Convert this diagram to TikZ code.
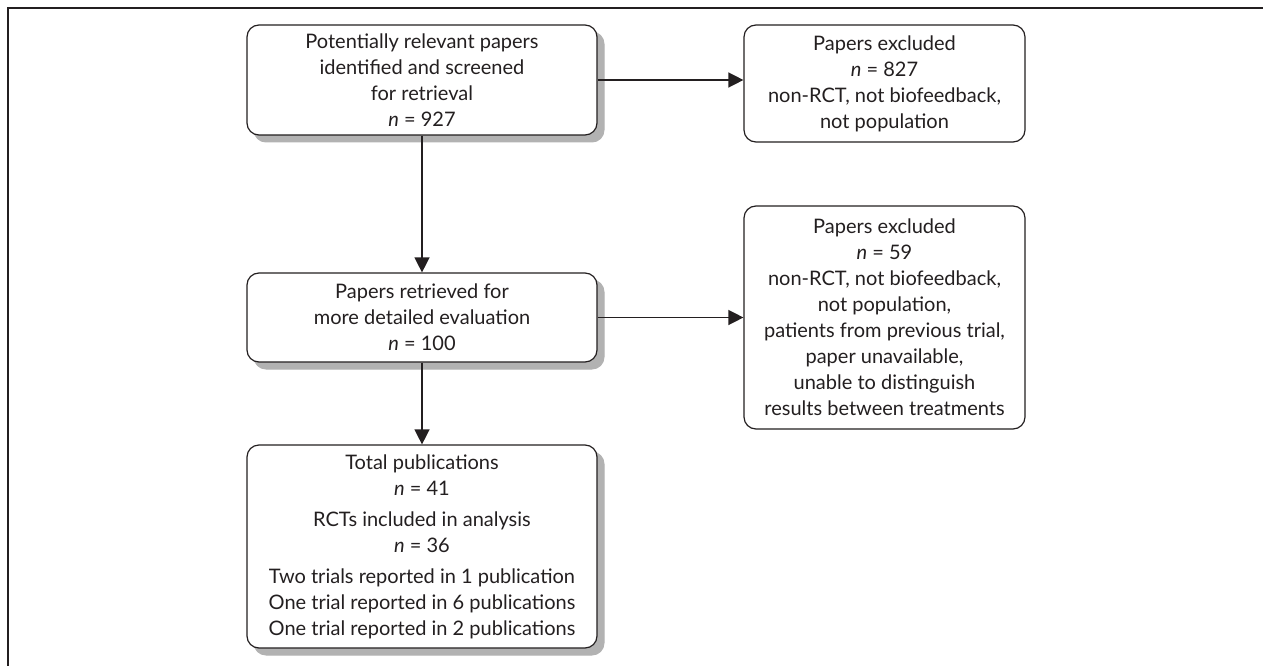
\documentclass[tikz,border=0pt]{standalone}
\usepackage{fontspec}
\setmainfont{Lato}
\usetikzlibrary{arrows.meta}
\definecolor{ink}{HTML}{231F20}
\colorlet{shadowgray}{black!30}
\begin{document}
\begin{tikzpicture}[x=1pt,y=-1pt,
  box/.style={draw=ink, line width=1.2pt, rounded corners=12pt, fill=white,
    align=center, inner sep=0pt, font=\fontsize{20}{26}\selectfont, text=ink},
  shadowbox/.style={fill=shadowgray, draw=shadowgray, line width=1pt, rounded corners=12pt},
  arr/.style={draw=ink, line width=1.4pt, -{Triangle[length=15pt,width=15pt]}}]
\useasboundingbox (0,0) rectangle (1263,666);
\draw[ink, line width=1.5pt] (8,666) -- (8,8) -- (1263,8);
% shadows
\filldraw[shadowbox] (254,32) rectangle (604,142);
\filldraw[shadowbox] (254,280) rectangle (604,369);
\filldraw[shadowbox] (254,452) rectangle (604,655);
\node[box, minimum width=350pt, minimum height=110pt] (b1) at (422,80)
  {Potentially relevant papers\\identified and screened\\for retrieval\\\textit{n} = 927};
\node[box, minimum width=281pt, minimum height=117pt] (b2) at (884.5,83.5)
  {Papers excluded\\\textit{n} = 827\\non-RCT, not biofeedback,\\not population};
\node[box, minimum width=350pt, minimum height=89pt] (b3) at (422,317.5)
  {Papers retrieved for\\more detailed evaluation\\\textit{n} = 100};
\node[box, minimum width=281pt, minimum height=223pt] (b4) at (884.5,317.5)
  {Papers excluded\\\textit{n} = 59\\non-RCT, not biofeedback,\\not population,\\patients from previous trial,\\paper unavailable,\\unable to distinguish\\results between treatments};
\node[box, minimum width=350pt, minimum height=203pt] (b5) at (422,546.5)
  {Total publications\\\textit{n} = 41\\[5pt]RCTs included in analysis\\\textit{n} = 36\\[5pt]Two trials reported in 1 publication\\One trial reported in 6 publications\\One trial reported in 2 publications};
\draw[arr] (b1.south) -- (b3.north);
\draw[arr] (b3.south) -- (b5.north);
\draw[arr] (b1.east) -- (b1.east -| b2.west);
\draw[arr] (b3.east) -- (b3.east -| b4.west);
\end{tikzpicture}
\end{document}
